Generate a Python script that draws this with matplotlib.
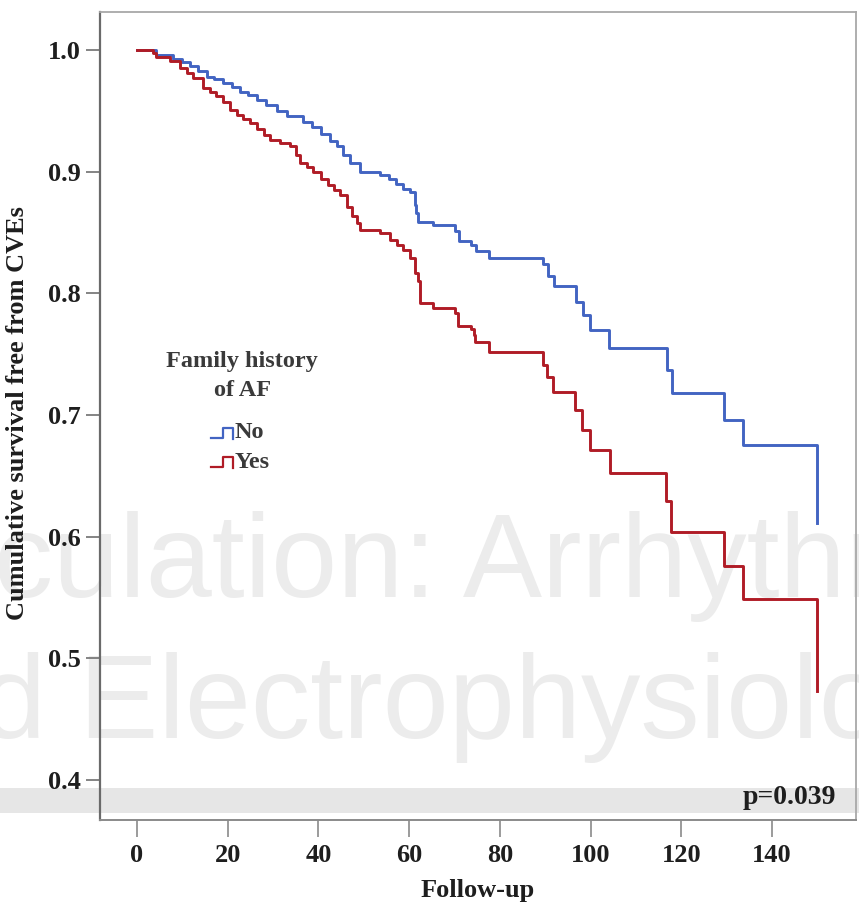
import matplotlib
matplotlib.use("Agg")
import matplotlib.pyplot as plt
from matplotlib.patches import Rectangle
from matplotlib.lines import Line2D

# ---- data ----
no_time = [0, 4.3, 8.0, 10.0, 11.7, 13.5, 15.4, 17.0, 19.0, 21.0, 22.7, 24.5, 26.4, 28.5,
           30.8, 33.0, 36.6, 38.5, 40.5, 42.5, 44.0, 45.5, 47.0, 49.1, 53.5, 55.5, 57.2,
           58.7, 60.1, 61.2, 61.6, 62.0, 65.3, 70.0, 71.0, 73.7, 74.8, 77.6, 89.6, 90.6,
           91.9, 96.7, 98.3, 99.9, 104.0, 116.9, 117.9, 129.5, 133.7, 150.0]
no_surv = [1.0, 0.996, 0.993, 0.990, 0.987, 0.983, 0.978, 0.976, 0.973, 0.970, 0.966, 0.963,
           0.959, 0.955, 0.950, 0.946, 0.941, 0.937, 0.931, 0.925, 0.921, 0.914, 0.907, 0.900,
           0.897, 0.894, 0.890, 0.886, 0.883, 0.873, 0.866, 0.859, 0.856, 0.851, 0.843, 0.840,
           0.835, 0.829, 0.824, 0.814, 0.806, 0.793, 0.782, 0.770, 0.755, 0.737, 0.718,
           0.6955, 0.6755, 0.611]

yes_time = [0, 3.6, 4.3, 7.3, 9.5, 11.0, 12.4, 14.6, 16.0, 17.5, 19.0, 20.5, 22.0, 23.4,
            25.0, 26.4, 28.0, 29.3, 31.5, 33.7, 35.0, 35.9, 37.5, 38.8, 40.5, 42.1, 43.5,
            44.7, 46.2, 47.3, 48.4, 49.1, 53.5, 55.7, 57.3, 58.7, 60.1, 61.2, 62.0, 62.3,
            65.3, 70.1, 70.8, 73.6, 74.2, 74.6, 77.7, 89.5, 90.3, 91.7, 96.5, 98.0, 99.8,
            104.2, 116.6, 117.7, 129.5, 133.7, 150.0]
yes_surv = [1.0, 0.998, 0.994, 0.991, 0.985, 0.981, 0.977, 0.969, 0.966, 0.962, 0.957, 0.951,
            0.947, 0.943, 0.940, 0.935, 0.930, 0.926, 0.924, 0.921, 0.914, 0.907, 0.904, 0.900,
            0.894, 0.889, 0.885, 0.881, 0.871, 0.864, 0.858, 0.852, 0.850, 0.844, 0.840, 0.836,
            0.829, 0.817, 0.810, 0.792, 0.788, 0.784, 0.773, 0.771, 0.766, 0.760, 0.752, 0.741,
            0.731, 0.719, 0.704, 0.688, 0.671, 0.652, 0.629, 0.604, 0.576, 0.549, 0.473]

group_labels = ["No", "Yes"]
x_ticks = [0, 20, 40, 60, 80, 100, 120, 140]
y_ticks = [0.4, 0.5, 0.6, 0.7, 0.8, 0.9, 1.0]
p_text = "p=0.039"

BLUE = "#4264c2"
RED = "#b01c26"
SERIF = ["Liberation Serif", "DejaVu Serif"]
TXT = "#1e1e1e"

W, H = 859, 907
fig = plt.figure(figsize=(W / 100, H / 100), dpi=100)
fig.patch.set_facecolor("white")

# axes in pixel frame
L, R, T, B = 100, 856, 11.5, 820
ax = fig.add_axes([L / W, 1 - B / H, (R - L) / W, (B - T) / H])
ax.patch.set_alpha(0)

# watermark and grey band (background artifacts)
fig.patches.append(Rectangle((0, 1 - 813 / H), 1, 25 / H, transform=fig.transFigure,
                             facecolor="#e6e6e6", edgecolor="none", zorder=-2))
fig.text(-158 / W, 1 - 597 / H, "Circulation: Arrhythmia", fontsize=85.5,
         family="Liberation Sans", color="#ececec", ha="left", va="baseline", zorder=-1)
fig.text(-152 / W, 1 - 738 / H, "and Electrophysiology", fontsize=85.5,
         family="Liberation Sans", color="#ececec", ha="left", va="baseline", zorder=-1)

ax.step(no_time, no_surv, where="post", color=BLUE, lw=2.1, zorder=3)
ax.step(yes_time, yes_surv, where="post", color=RED, lw=2.1, zorder=3)

ax.set_xlim(-8.15, 158.5)
ax.set_ylim(0.367, 1.0318)
ax.set_xticks(x_ticks)
ax.set_yticks(y_ticks)
ax.set_yticklabels([f"{v:.1f}" for v in y_ticks])

for s in ["top", "right"]:
    ax.spines[s].set_color("#a8a8a8")
    ax.spines[s].set_linewidth(1.3)
ax.spines["left"].set_color("#6a6a6a")
ax.spines["left"].set_linewidth(1.6)
ax.spines["bottom"].set_color("#8a8a8a")
ax.spines["bottom"].set_linewidth(1.4)

ax.tick_params(axis="y", direction="out", length=10, width=1.2, color="#707070", pad=4)
ax.tick_params(axis="x", direction="out", length=12, width=1.2, color="#8a8a8a", pad=5)
for lab in ax.get_xticklabels() + ax.get_yticklabels():
    lab.set_fontfamily(SERIF)
    lab.set_fontweight("bold")
    lab.set_fontsize(19)
    lab.set_color(TXT)

ax.set_ylabel("Cumulative survival free from CVEs", fontsize=19, fontweight="bold",
              family=SERIF, color=TXT, va="center", ha="center")
ax.yaxis.set_label_coords((18 - L) / (R - L), (B - 413) / (B - T))
ax.set_xlabel("Follow-up", fontsize=19, fontweight="bold", family=SERIF,
              color=TXT, va="center", ha="center")
ax.xaxis.set_label_coords(0.5, -(890 - B) / (B - T))

# legend block
def px(x, y):
    return x / W, 1 - y / H

LEG = "#3a3a3a"
fig.text(*px(242, 362), "Family history", fontsize=17.5, fontweight="bold", family=SERIF,
         color=LEG, ha="center", va="center")
fig.text(*px(243, 391), "of AF", fontsize=17.5, fontweight="bold", family=SERIF,
         color=LEG, ha="center", va="center")
for lbl, col, yc in [(group_labels[0], BLUE, 433), (group_labels[1], RED, 462)]:
    xs = [211, 223, 223, 233, 233]
    ys = [yc + 5, yc + 5, yc - 5, yc - 5, yc + 6]
    fig.add_artist(Line2D([x / W for x in xs], [1 - y / H for y in ys],
                          transform=fig.transFigure, color=col, lw=1.6))
    fig.text(*px(235, yc), lbl, fontsize=17.5, fontweight="bold", family=SERIF,
             color=LEG, ha="left", va="center")

fig.text(*px(789, 797), p_text, fontsize=20, fontweight="bold", family=SERIF,
         color=TXT, ha="center", va="center", zorder=5)

fig.savefig("out.png", dpi=100)
